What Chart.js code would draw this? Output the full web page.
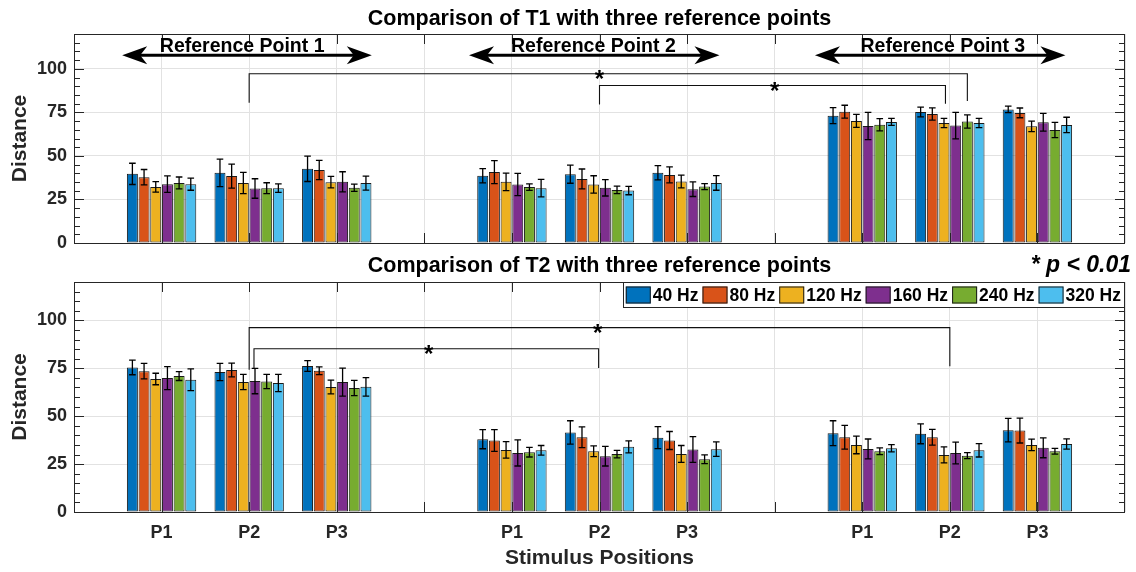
<!DOCTYPE html>
<html><head><meta charset="utf-8">
<script src="https://cdn.jsdelivr.net/npm/chart.js@4"></script>
<style>
html,body{margin:0;padding:0;background:#fff;width:1136px;height:572px;overflow:hidden}
#c1{position:absolute;left:0;top:0}
#c2{position:absolute;left:0;top:250px}
</style></head><body>
<canvas id="c1" width="1136" height="262"></canvas>
<canvas id="c2" width="1136" height="322"></canvas>
<script>
// ---------- data ----------
const positions = ['', 'P1', 'P2', 'P3', '', 'P1', 'P2', 'P3', '', 'P1', 'P2', 'P3', ''];
const frequencies = ['40 Hz', '80 Hz', '120 Hz', '160 Hz', '240 Hz', '320 Hz'];
const yTicks = [0, 25, 50, 75, 100];
const referenceNames = ['Reference Point 1', 'Reference Point 2', 'Reference Point 3'];

// order of values: RefPt1 P1,P2,P3 | RefPt2 P1,P2,P3 | RefPt3 P1,P2,P3
const t1_40  = [39.7, 40.3, 42.6, 38.6, 39.5, 40.3, 73.1, 75.2, 76.7];
const t1_80  = [37.8, 38.4, 41.9, 40.7, 36.8, 39.1, 75.4, 74.1, 74.7];
const t1_120 = [32.2, 34.5, 34.9, 35.1, 33.6, 35.3, 70.1, 68.9, 67.0];
const t1_160 = [33.8, 31.3, 35.1, 33.6, 31.7, 30.9, 67.2, 67.4, 69.3];
const t1_240 = [34.5, 31.5, 31.7, 32.1, 30.5, 32.4, 67.9, 69.8, 64.9];
const t1_320 = [33.8, 31.5, 34.4, 31.5, 30.1, 34.5, 69.5, 68.9, 67.8];

const t1Err_40  = [6.1, 7.9, 7.3, 4.1, 5.2, 4.1, 4.6, 2.8, 1.9];
const t1Err_80  = [4.4, 6.9, 5.5, 6.6, 5.7, 4.6, 3.7, 3.5, 2.8];
const t1Err_120 = [3.0, 6.1, 3.3, 5.0, 5.0, 3.7, 3.7, 2.7, 3.0];
const t1Err_160 = [4.7, 5.6, 5.8, 6.4, 4.7, 4.2, 7.8, 7.6, 5.1];
const t1Err_240 = [3.4, 3.1, 2.1, 1.9, 2.2, 1.7, 3.5, 3.8, 4.4];
const t1Err_320 = [3.5, 2.4, 4.0, 5.0, 2.4, 4.2, 2.0, 2.6, 4.4];

const t2_40  = [75.4, 73.0, 76.2, 38.0, 41.5, 38.8, 41.1, 40.8, 42.7];
const t2_80  = [73.5, 74.1, 73.7, 37.3, 39.0, 37.3, 39.0, 39.0, 42.5];
const t2_120 = [69.4, 67.8, 65.2, 32.4, 31.7, 30.3, 35.0, 29.8, 35.0];
const t2_160 = [69.9, 68.3, 67.8, 30.8, 29.1, 32.6, 32.9, 30.8, 33.5];
const t2_240 = [70.9, 68.1, 64.7, 31.2, 30.2, 27.5, 31.7, 29.4, 31.7];
const t2_320 = [69.0, 67.3, 65.3, 32.2, 34.0, 32.8, 33.3, 32.2, 35.5];

const t2Err_40  = [3.8, 4.5, 2.8, 5.0, 6.1, 5.7, 6.5, 5.2, 6.1];
const t2Err_80  = [4.0, 3.6, 2.0, 5.7, 5.4, 4.7, 6.2, 4.1, 6.5];
const t2Err_120 = [3.0, 4.0, 3.6, 4.3, 2.8, 4.4, 4.6, 4.2, 3.0];
const t2Err_160 = [6.0, 6.6, 7.3, 6.8, 5.1, 6.7, 5.2, 5.7, 5.2];
const t2Err_240 = [2.3, 3.7, 4.0, 2.5, 2.0, 2.3, 1.8, 1.6, 1.5];
const t2Err_320 = [5.7, 4.5, 4.8, 2.5, 3.1, 3.8, 1.9, 3.5, 2.7];

// significance brackets (x in category units, y in data units)
const t1Brackets = [
  {x1: 2, x2: 10.2, y: 97.2, e1: 80.5, e2: 81.5, star: 6},
  {x1: 6, x2: 9.95, y: 90.4, e1: 79.5, e2: 80.0, star: 8}
];
const t2Brackets = [
  {x1: 2, x2: 10, y: 96.2, e1: 74.2, e2: 76.0, star: 5.98},
  {x1: 2.055, x2: 5.99, y: 85.2, e1: 75.1, e2: 75.1, star: 4.05}
];
// reference point arrows (category units)
const arrowFrom = [0.55, 4.51, 8.46];
const arrowTo   = [3.40, 7.37, 11.32];
const arrowY = 107.8;
const refTextX = [1.92, 5.93, 9.92];
const refTextY = 113.0;

// ---------- styling ----------
const colors = ['#0072BD', '#D95319', '#EDB120', '#7E2F8E', '#77AC30', '#4DBEEE'];
const FONT = "'Liberation Sans', Arial, Helvetica, sans-serif";
const AX = '#262626';

function toSlots(a, gapVal) {
  return [null, a[0], a[1], a[2], gapVal, a[3], a[4], a[5], gapVal, a[6], a[7], a[8], null];
}

function makeDatasets(means, errs) {
  return means.map((m, i) => ({
    label: frequencies[i],
    data: toSlots(m, 0),
    errors: toSlots(errs[i], null),
    backgroundColor: colors[i],
    borderColor: '#1a1a1a',
    borderWidth: 1,
    borderSkipped: false,
    barPercentage: 0.94,
    categoryPercentage: 0.8
  }));
}

function makeDecor(cfg) {
  return {
    id: 'decor',
    afterDatasetsDraw(chart) {
      const ctx = chart.ctx, ys = chart.scales.y;
      ctx.save();
      ctx.strokeStyle = '#000';
      ctx.lineWidth = 1.3;
      chart.data.datasets.forEach((ds, di) => {
        const meta = chart.getDatasetMeta(di);
        meta.data.forEach((el, j) => {
          const e = ds.errors[j], v = ds.data[j];
          if (e == null || v == null) return;
          const x = el.x;
          const yt = ys.getPixelForValue(v + e), yb = ys.getPixelForValue(v - e);
          ctx.beginPath();
          ctx.moveTo(x, yt); ctx.lineTo(x, yb);
          ctx.moveTo(x - 3.3, yt); ctx.lineTo(x + 3.3, yt);
          ctx.moveTo(x - 3.3, yb); ctx.lineTo(x + 3.3, yb);
          ctx.stroke();
        });
      });
      ctx.restore();
    },
    afterDraw(chart) {
      const ctx = chart.ctx, xs = chart.scales.x, ys = chart.scales.y;
      const a = chart.chartArea;
      ctx.save();
      // box
      ctx.strokeStyle = AX; ctx.lineWidth = 1;
      ctx.strokeRect(Math.round(a.left) + 0.5, Math.round(a.top) + 0.5, Math.round(a.right - a.left) - 1, Math.round(a.bottom - a.top));
      // x ticks (inside, top and bottom)
      ctx.beginPath();
      for (let i = 1; i < positions.length - 1; i++) {
        const x = Math.round(xs.getPixelForValue(i)) + 0.5;
        ctx.moveTo(x, a.top); ctx.lineTo(x, a.top + 10);
        ctx.moveTo(x, a.bottom); ctx.lineTo(x, a.bottom - 10);
      }
      // y ticks major + minor (inside, left and right)
      for (let v = 5; v < 120; v += 5) {
        const y = Math.round(ys.getPixelForValue(v)) + 0.5;
        const len = yTicks.includes(v) ? 10 : 6;
        ctx.moveTo(a.left, y); ctx.lineTo(a.left + len, y);
        ctx.moveTo(a.right, y); ctx.lineTo(a.right - len, y);
      }
      ctx.stroke();

      // title
      ctx.fillStyle = '#000';
      ctx.font = 'bold 21.5px ' + FONT;
      ctx.textAlign = 'center'; ctx.textBaseline = 'middle';
      ctx.fillText(cfg.title, (a.left + a.right) / 2, cfg.titleY);

      // brackets
      ctx.strokeStyle = '#111'; ctx.lineWidth = 1.1;
      cfg.brackets.forEach(b => {
        const x1 = xs.getPixelForValue(b.x1), x2 = xs.getPixelForValue(b.x2);
        const y = ys.getPixelForValue(b.y);
        ctx.beginPath();
        ctx.moveTo(x1, ys.getPixelForValue(b.e1));
        ctx.lineTo(x1, y); ctx.lineTo(x2, y);
        ctx.lineTo(x2, ys.getPixelForValue(b.e2));
        ctx.stroke();
        ctx.font = 'bold 24px ' + FONT;
        ctx.textBaseline = 'alphabetic';
        ctx.fillText('*', xs.getPixelForValue(b.star), y + 0.57 * 24);
      });

      // reference arrows
      if (cfg.arrows) {
        ctx.strokeStyle = '#000'; ctx.fillStyle = '#000'; ctx.lineWidth = 3;
        const y = ys.getPixelForValue(arrowY);
        for (let k = 0; k < arrowFrom.length; k++) {
          const x1 = xs.getPixelForValue(arrowFrom[k]), x2 = xs.getPixelForValue(arrowTo[k]);
          const L = 25, H = 9;
          ctx.beginPath();
          ctx.moveTo(x1 + L * 0.7, y); ctx.lineTo(x2 - L * 0.7, y);
          ctx.stroke();
          ctx.beginPath();
          ctx.moveTo(x1, y); ctx.lineTo(x1 + L, y - H); ctx.lineTo(x1 + L * 0.72, y); ctx.lineTo(x1 + L, y + H); ctx.closePath();
          ctx.fill();
          ctx.beginPath();
          ctx.moveTo(x2, y); ctx.lineTo(x2 - L, y - H); ctx.lineTo(x2 - L * 0.72, y); ctx.lineTo(x2 - L, y + H); ctx.closePath();
          ctx.fill();
          ctx.font = 'bold 19.5px ' + FONT;
          ctx.textAlign = 'center'; ctx.textBaseline = 'middle';
          ctx.fillText(referenceNames[k], xs.getPixelForValue(refTextX[k]), ys.getPixelForValue(refTextY));
        }
      }

      // legend + p-value note
      if (cfg.legend) {
        ctx.font = 'bold 17.5px ' + FONT;
        const ds = chart.data.datasets;
        const widths = ds.map(d => ctx.measureText(d.label).width);
        let total = 2.5;
        widths.forEach(w => total += 25 + 2 + w + 4);
        const right = Math.round(a.right), top = Math.round(a.top);
        const left = right - total;
        const h = 25;
        ctx.fillStyle = '#fff';
        ctx.fillRect(left, top, total, h);
        ctx.strokeStyle = AX; ctx.lineWidth = 1;
        ctx.strokeRect(Math.round(left) + 0.5, top + 0.5, Math.round(total) - 1, h);
        let x = left + 2.5;
        const cy = top + h / 2 + 0.5;
        ds.forEach((d, i) => {
          ctx.fillStyle = d.backgroundColor;
          ctx.fillRect(x, cy - 8.5, 25, 17);
          ctx.strokeStyle = '#1a1a1a';
          ctx.strokeRect(x + 0.5, cy - 8.5 + 0.5, 24, 16);
          ctx.fillStyle = '#000';
          ctx.textAlign = 'left'; ctx.textBaseline = 'middle';
          ctx.fillText(d.label, x + 27, cy + 1);
          x += 25 + 2 + widths[i] + 4;
        });
        ctx.font = 'italic bold 23px ' + FONT;
        ctx.textAlign = 'right'; ctx.textBaseline = 'middle';
        ctx.fillStyle = '#000';
        ctx.fillText('* p < 0.01', 1131, cfg.titleY);
      }
      ctx.restore();
    }
  };
}

function makeChart(id, means, errs, bottom, cfg) {
  return new Chart(document.getElementById(id), {
    type: 'bar',
    data: { labels: positions, datasets: makeDatasets(means, errs) },
    options: {
      responsive: false,
      animation: false,
      devicePixelRatio: 1,
      layout: { padding: { left: 0, right: 11, top: bottom ? 32 : 34, bottom: 0 } },
      plugins: { legend: { display: false }, tooltip: { enabled: false }, title: { display: false } },
      scales: {
        x: {
          type: 'category',
          offset: false,
          grid: { color: '#e2e2e2', drawTicks: false, offset: false, lineWidth: 1 },
          border: { display: false },
          ticks: {
            display: bottom, autoSkip: false, maxRotation: 0, padding: 10,
            color: AX, font: { family: FONT, size: 18, weight: 'bold' }
          },
          title: {
            display: bottom, text: 'Stimulus Positions', color: AX,
            font: { family: FONT, size: 21, weight: 'bold' }, padding: { top: 0, bottom: 1.4 }
          },
          afterFit: s => { s.height = bottom ? 60 : 19; }
        },
        y: {
          type: 'linear', min: 0, max: 120,
          afterBuildTicks: s => { s.ticks = yTicks.map(v => ({ value: v })); },
          grid: { color: '#e2e2e2', drawTicks: false, lineWidth: 1 },
          border: { display: false },
          ticks: { padding: 7, color: AX, font: { family: FONT, size: 18, weight: 'bold' } },
          title: {
            display: true, text: 'Distance', color: AX,
            font: { family: FONT, size: 21, weight: 'bold' }, padding: { top: 8, bottom: 0 }
          },
          afterFit: s => { s.width = 74; }
        }
      }
    },
    plugins: [makeDecor(cfg)]
  });
}

makeChart('c1',
  [t1_40, t1_80, t1_120, t1_160, t1_240, t1_320],
  [t1Err_40, t1Err_80, t1Err_120, t1Err_160, t1Err_240, t1Err_320],
  false,
  { title: 'Comparison of T1 with three reference points', titleY: 19, brackets: t1Brackets, arrows: true, legend: false });

makeChart('c2',
  [t2_40, t2_80, t2_120, t2_160, t2_240, t2_320],
  [t2Err_40, t2Err_80, t2Err_120, t2Err_160, t2Err_240, t2Err_320],
  true,
  { title: 'Comparison of T2 with three reference points', titleY: 16, brackets: t2Brackets, arrows: false, legend: true });
</script>
</body></html>
